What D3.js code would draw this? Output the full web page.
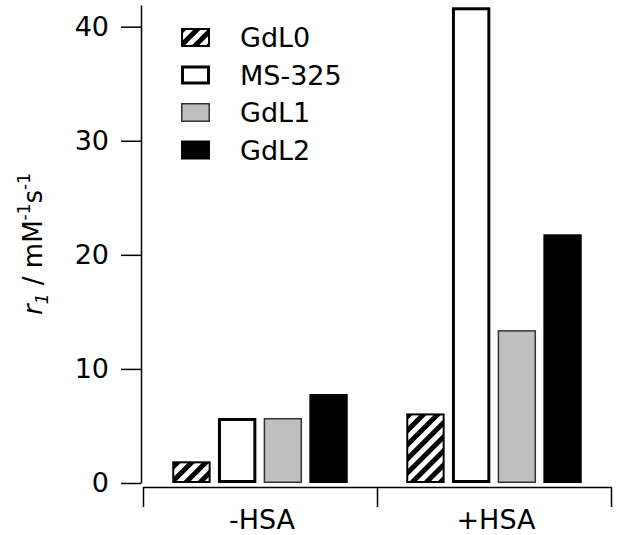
<!DOCTYPE html>
<html>
<head>
<meta charset="utf-8">
<script src="https://cdn.jsdelivr.net/npm/d3@7"></script>
<style>
  body { margin: 0; background: #fff; }
  svg { display: block; font-family: "DejaVu Sans", sans-serif; }
</style>
</head>
<body>
<svg id="chart" width="618" height="535"></svg>
<script>
const categories = ['-HSA', '+HSA'];
const seriesNames = ['GdL0', 'MS-325', 'GdL1', 'GdL2'];
const gdl0 = [1.9, 6.1];
const ms325 = [5.7, 41.7];
const gdl1 = [5.7, 13.4];
const gdl2 = [7.8, 21.8];
const yTicks = [0, 10, 20, 30, 40];

const seriesValues = [gdl0, ms325, gdl1, gdl2];
const styles = [
  { fill: 'url(#hatch)', stroke: '#000', sw: 2 },
  { fill: '#fff', stroke: '#000', sw: 3 },
  { fill: '#bfbfbf', stroke: '#333', sw: 1.5 },
  { fill: '#000', stroke: '#000', sw: 0 }
];

const svg = d3.select('#chart');

// hatch pattern for GdL0
const defs = svg.append('defs');
const pat = defs.append('pattern')
  .attr('id', 'hatch')
  .attr('patternUnits', 'userSpaceOnUse')
  .attr('width', 10)
  .attr('height', 10)
  .attr('patternTransform', 'rotate(45)');
pat.append('rect').attr('width', 10).attr('height', 10).attr('fill', '#fff');
pat.append('rect').attr('width', 5).attr('height', 10).attr('fill', '#000');

const y = d3.scaleLinear().domain([0, 41.9]).range([483, 5]);

const x0 = d3.scaleBand()
  .domain(categories)
  .range([143, 611])
  .paddingInner(0.25)
  .paddingOuter(0.125);

const x1 = d3.scaleBand()
  .domain(seriesNames)
  .range([0, x0.bandwidth()])
  .paddingInner(0.16);

// bars
const rows = [];
categories.forEach((c, ci) => {
  seriesNames.forEach((s, si) => {
    rows.push({ cat: c, series: s, si, value: seriesValues[si][ci] });
  });
});

svg.append('g')
  .selectAll('rect')
  .data(rows)
  .join('rect')
  .attr('x', d => x0(d.cat) + x1(d.series) + styles[d.si].sw / 2)
  .attr('y', d => y(d.value) + styles[d.si].sw / 2)
  .attr('width', d => x1.bandwidth() - styles[d.si].sw)
  .attr('height', d => Math.max(0, y(0) - y(d.value) - styles[d.si].sw))
  .attr('fill', d => styles[d.si].fill)
  .attr('stroke', d => styles[d.si].sw ? styles[d.si].stroke : 'none')
  .attr('stroke-width', d => styles[d.si].sw);

// y axis
const yAxis = svg.append('g')
  .attr('transform', 'translate(141,0)')
  .call(d3.axisLeft(y).tickValues(yTicks).tickSize(20).tickSizeOuter(0).tickPadding(12));
yAxis.select('.domain').attr('stroke-width', 1.5);
yAxis.selectAll('.tick line').attr('stroke-width', 1.5);
yAxis.selectAll('.tick text')
  .attr('font-size', 27)
  .attr('font-family', '"DejaVu Sans", sans-serif')
  .attr('fill', '#000');

// x axis: ticks at the category boundaries
const xb = d3.scaleLinear().domain([0, categories.length]).range(x0.range());
const xAxis = svg.append('g')
  .attr('transform', 'translate(0,487)')
  .call(d3.axisBottom(xb).tickValues(d3.range(categories.length + 1)).tickFormat('').tickSize(20).tickSizeOuter(0));
xAxis.select('.domain').attr('stroke-width', 1.5);
xAxis.selectAll('.tick line').attr('stroke-width', 1.5);

svg.append('g')
  .selectAll('text')
  .data(categories)
  .join('text')
  .attr('x', d => x0(d) + x0.bandwidth() / 2 + 2)
  .attr('y', 529)
  .attr('text-anchor', 'middle')
  .attr('font-size', 27)
  .text(d => d);

// y label
const yl = svg.append('text')
  .attr('transform', 'translate(42,244) rotate(-90)')
  .attr('text-anchor', 'middle')
  .attr('font-size', 26);
yl.append('tspan').attr('font-style', 'italic').text('r');
yl.append('tspan').attr('font-style', 'italic').attr('font-size', 17).attr('dy', 6).text('1');
yl.append('tspan').attr('dy', -6).text(' / mM');
yl.append('tspan').attr('font-size', 17).attr('dy', -12).text('-1');
yl.append('tspan').attr('dy', 12).text('s');
yl.append('tspan').attr('font-size', 17).attr('dy', -12).text('-1');

// legend
const legend = svg.append('g')
  .selectAll('g')
  .data(seriesNames)
  .join('g')
  .attr('transform', (d, i) => `translate(181,${28 + i * 37.5})`);

legend.append('rect')
  .attr('x', (d, i) => styles[i].sw / 2)
  .attr('y', (d, i) => styles[i].sw / 2)
  .attr('width', (d, i) => 29 - styles[i].sw)
  .attr('height', (d, i) => 19 - styles[i].sw)
  .attr('fill', (d, i) => styles[i].fill)
  .attr('stroke', (d, i) => styles[i].sw ? styles[i].stroke : 'none')
  .attr('stroke-width', (d, i) => styles[i].sw);

legend.append('text')
  .attr('x', 59)
  .attr('y', 19)
  .attr('font-size', 27)
  .text(d => d);
</script>
</body>
</html>
